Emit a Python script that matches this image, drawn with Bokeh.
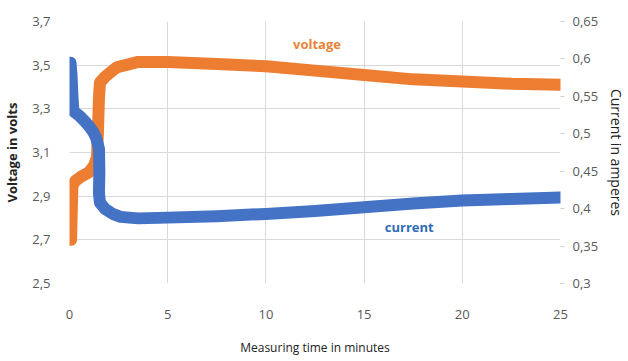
from bokeh.plotting import figure
from bokeh.models import Range1d, LinearAxis, FixedTicker
from bokeh.embed import file_html
from bokeh.resources import INLINE
from bokeh.core.properties import value

# ---- data ----
volt_time = [0.08, 0.1, 0.12, 0.15, 0.3, 0.6, 1.0, 1.25, 1.4, 1.45, 1.5, 1.55, 1.85, 2.4,
             3.5, 5.0, 7.5, 10.0, 12.5, 15.0, 17.5, 20.0, 22.5, 25.0]
voltage = [2.70, 2.78, 2.85, 2.95, 2.97, 2.99, 3.01, 3.04, 3.08, 3.20, 3.35, 3.42, 3.45, 3.49,
           3.515, 3.515, 3.505, 3.495, 3.475, 3.455, 3.435, 3.425, 3.415, 3.41]

curr_time = [0.05, 0.1, 0.15, 0.2, 0.5, 0.8, 1.0, 1.2, 1.35, 1.5, 1.52, 1.5, 1.55, 1.8, 2.2,
             2.6, 3.5, 5.0, 7.5, 10.0, 12.5, 15.0, 17.5, 20.0, 22.5, 25.0]
current = [0.595, 0.58, 0.55, 0.53, 0.524, 0.516, 0.510, 0.503, 0.495, 0.48, 0.45, 0.42, 0.408,
           0.40, 0.393, 0.389, 0.387, 0.388, 0.390, 0.393, 0.397, 0.402, 0.407, 0.411, 0.413, 0.415]

x_ticks = [0, 5, 10, 15, 20, 25]
volt_ticks = [2.5, 2.7, 2.9, 3.1, 3.3, 3.5, 3.7]
volt_tick_labels = ["2,5", "2,7", "2,9", "3,1", "3,3", "3,5", "3,7"]
curr_ticks = [0.3, 0.35, 0.4, 0.45, 0.5, 0.55, 0.6, 0.65]
curr_tick_labels = ["0,3", "0,35", "0,4", "0,45", "0,5", "0,55", "0,6", "0,65"]

series_labels = ["voltage", "current"]

ORANGE = "#ED7D31"
BLUE = "#4472C4"
FONT = "Open Sans"

p = figure(frame_width=491, frame_height=262, output_backend="svg", toolbar_location=None,
           x_range=Range1d(0, 25), y_range=Range1d(2.5, 3.7))
p.extra_y_ranges = {"cur": Range1d(0.3, 0.65)}
p.min_border_left = 64
p.min_border_right = 0
p.min_border_top = 21
p.min_border_bottom = 0
p.outline_line_color = None
p.background_fill_color = "white"
p.border_fill_color = "white"

# grids
p.xgrid.grid_line_color = "#d9d9d9"
p.ygrid.grid_line_color = "#d9d9d9"
p.xgrid.ticker = FixedTicker(ticks=x_ticks)
p.ygrid.ticker = FixedTicker(ticks=volt_ticks)

# x axis
xa = p.xaxis[0]
xa.ticker = FixedTicker(ticks=x_ticks)
xa.axis_line_color = None
xa.major_tick_line_color = None
xa.minor_tick_line_color = None
xa.major_label_standoff = 20
xa.major_label_text_font = FONT
xa.major_label_text_font_size = "13px"
xa.major_label_text_color = "#595959"
xa.axis_label = "Measuring time in minutes"
xa.axis_label_text_font = FONT
xa.axis_label_text_font_style = "normal"
xa.axis_label_text_font_size = "12px"
xa.axis_label_text_color = "#222222"
xa.axis_label_standoff = 17

# left axis
ya = p.yaxis[0]
ya.ticker = FixedTicker(ticks=volt_ticks)
ya.major_label_overrides = dict(zip(volt_ticks, volt_tick_labels))
ya.axis_line_color = None
ya.major_tick_line_color = None
ya.minor_tick_line_color = None
ya.major_label_standoff = 13
ya.major_label_text_font = FONT
ya.major_label_text_font_size = "13px"
ya.major_label_text_color = "#595959"
ya.axis_label = "Voltage in volts"
ya.axis_label_text_font = FONT
ya.axis_label_text_font_style = "bold"
ya.axis_label_text_font_size = "13px"
ya.axis_label_text_color = "#222222"
ya.axis_label_standoff = 8

# right axis
ra = LinearAxis(y_range_name="cur", ticker=FixedTicker(ticks=curr_ticks))
ra.major_label_overrides = dict(zip(curr_ticks, curr_tick_labels))
ra.axis_line_color = None
ra.major_tick_line_color = "#d0d0d0"
ra.major_tick_out = 4
ra.major_tick_in = 0
ra.minor_tick_line_color = None
ra.major_label_standoff = 8
ra.major_label_text_font = FONT
ra.major_label_text_font_size = "13px"
ra.major_label_text_color = "#595959"
ra.axis_label = "Current in amperes"
ra.axis_label_text_font = FONT
ra.axis_label_text_font_style = "normal"
ra.axis_label_text_font_size = "14px"
ra.axis_label_text_color = "#222222"
ra.axis_label_standoff = 6
p.add_layout(ra, "right")

# series
p.line(volt_time, voltage, line_color=ORANGE, line_width=12,
       line_cap="round", line_join="round")
p.line(curr_time, current, line_color=BLUE, line_width=12,
       line_cap="round", line_join="round", y_range_name="cur")

# series labels
p.text(x=[12.6], y=[3.595], text=[series_labels[0]], text_color="#E8833A",
       text_font=value(FONT), text_font_style="bold", text_font_size="13px",
       text_align="center", text_baseline="middle")
p.text(x=[17.3], y=[2.757], text=[series_labels[1]], text_color="#2E6DB4",
       text_font=value(FONT), text_font_style="bold", text_font_size="13px",
       text_align="center", text_baseline="middle")

open("out.html", "w").write(file_html(p, INLINE))
